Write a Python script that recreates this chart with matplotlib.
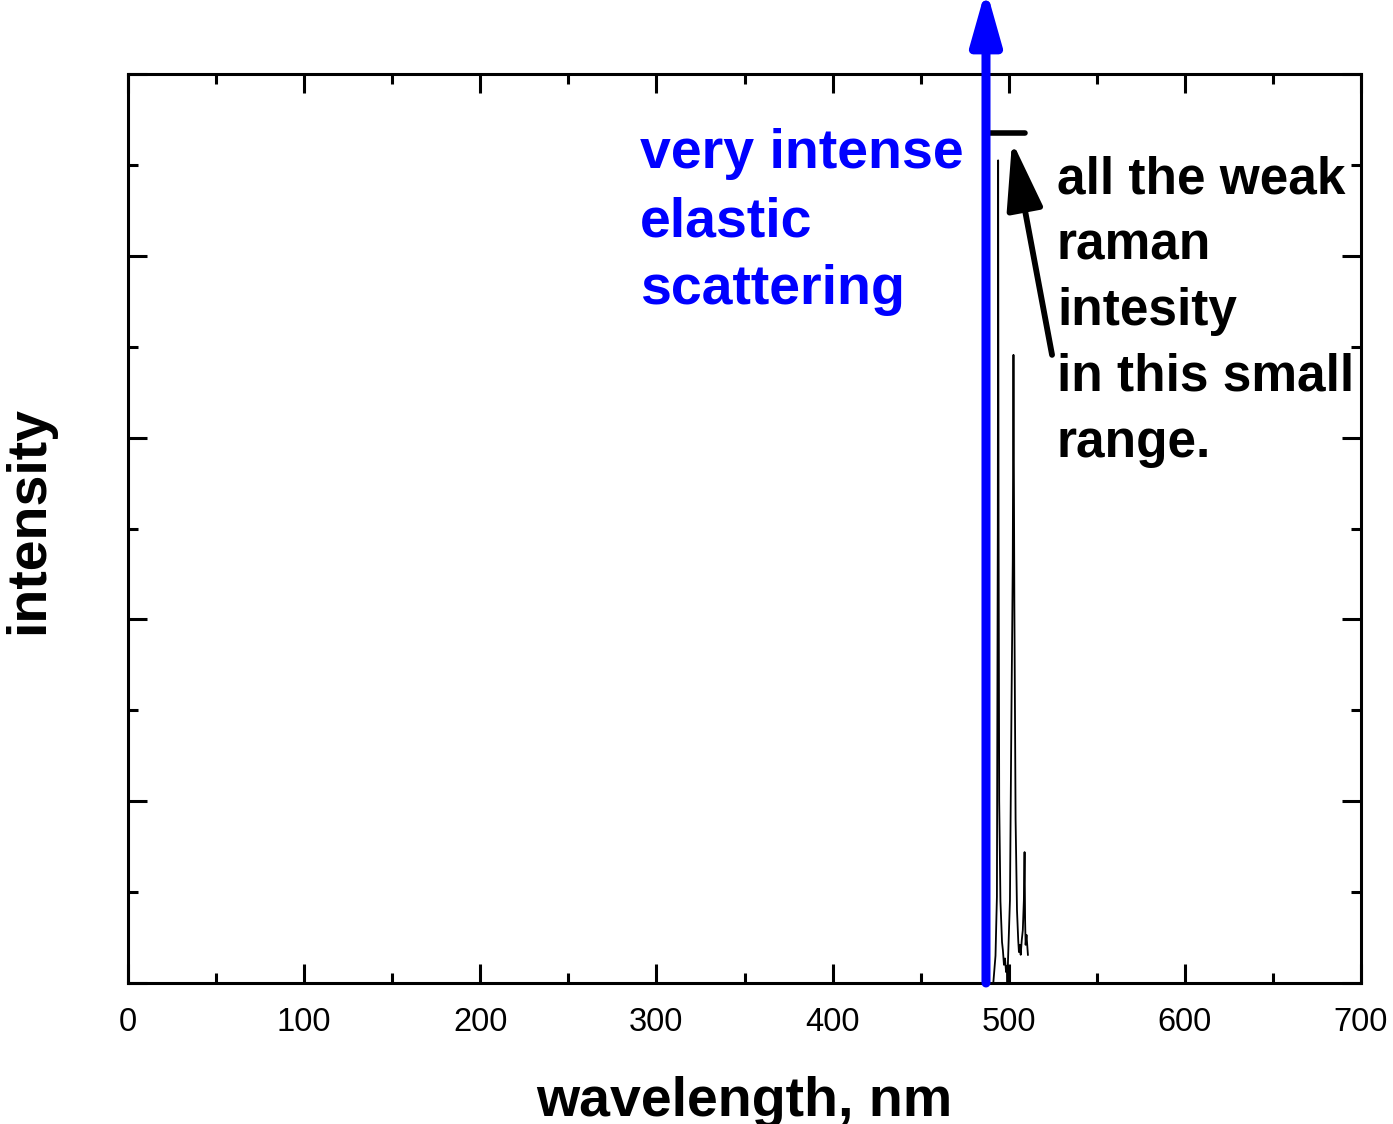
import matplotlib
matplotlib.use("Agg")
import matplotlib.pyplot as plt
from matplotlib.ticker import MultipleLocator

# ---- data ----
wavelength_nm = [491.25, 492.5, 493.3, 493.8, 494.0, 494.25, 494.6, 495.3, 496.2,
                 496.7, 497.3, 497.9, 498.5, 499.0, 499.3, 499.6, 500.7, 501.6,
                 502.0, 502.3, 502.7, 503.2, 503.9, 504.7, 505.4, 505.8, 506.3,
                 506.8, 507.4, 508.0, 508.6, 509.0, 509.3, 509.6, 510.1, 510.9]
intensity = [0.0, 0.3, 0.95, 5.0, 9.05, 5.0, 2.0, 0.9, 0.45,
             0.36, 0.2, 0.27, 0.12, 0.19, 0.0, 0.25, 0.91, 3.1,
             3.94, 4.65, 6.91, 4.2, 1.8, 0.8, 0.47, 0.34, 0.42,
             0.31, 0.47, 0.58, 0.91, 1.44, 0.69, 0.42, 0.53, 0.31]

elastic_wl = 487.1
elastic_top = 10.94
range_bar_x = [487.6, 509.3]
range_bar_y = 9.35
pointer_tail = (524.6, 6.91)
pointer_tip = (501.9, 9.26)

x_ticks = [0, 100, 200, 300, 400, 500, 600, 700]

plt.rcParams['font.family'] = ['Liberation Sans', 'DejaVu Sans']

fig = plt.figure(figsize=(13.93, 11.24), dpi=100)
ax = fig.add_axes([128/1393, (1124-983)/1124, (1361-128)/1393, (983-74)/1124])

ax.plot(wavelength_nm, intensity, color='black', lw=1.3)

ax.set_xlim(0, 700)
ax.set_ylim(0, 10)
ax.set_xticks(x_ticks)
ax.xaxis.set_minor_locator(MultipleLocator(50))
ax.yaxis.set_major_locator(MultipleLocator(2))
ax.yaxis.set_minor_locator(MultipleLocator(1))
ax.set_yticklabels([])
ax.tick_params(which='both', direction='in', top=True, right=True, width=2.2)
ax.tick_params(which='major', length=14, labelsize=23.5, pad=17)
ax.tick_params(which='minor', length=7)
for s in ax.spines.values():
    s.set_linewidth(2.2)

ax.set_xlabel('wavelength, nm', fontsize=40, fontweight='bold', labelpad=28)
ax.set_ylabel('intensity', fontsize=40, fontweight='bold')
ax.yaxis.set_label_coords(-0.059, 0.509)

# elastic scattering arrow
ax.annotate('', xy=(elastic_wl, elastic_top), xytext=(elastic_wl, 0),
            annotation_clip=False,
            arrowprops=dict(arrowstyle='-|>,head_length=2.3,head_width=0.65',
                            color='#0000ff', lw=6.5, mutation_scale=14,
                            shrinkA=0, shrinkB=0))

ax.plot(range_bar_x, [range_bar_y, range_bar_y], color='black', lw=4,
        solid_capstyle='round')

ax.annotate('', xy=pointer_tip, xytext=pointer_tail,
            arrowprops=dict(arrowstyle='-|>,head_length=3.0,head_width=0.8',
                            color='black', lw=4.2, mutation_scale=14,
                            shrinkA=0, shrinkB=0, capstyle='round'))

ax.text(290.7, 9.41, 'very intense\nelastic\nscattering', color='#0000ff',
        fontsize=40, fontweight='bold', va='top', ha='left', linespacing=1.41)
ax.text(527.4, 9.1, 'all the weak\nraman\nintesity\nin this small\nrange.', color='black',
        fontsize=37, fontweight='bold', va='top', ha='left', linespacing=1.44)

fig.savefig('out.png', dpi=100)
